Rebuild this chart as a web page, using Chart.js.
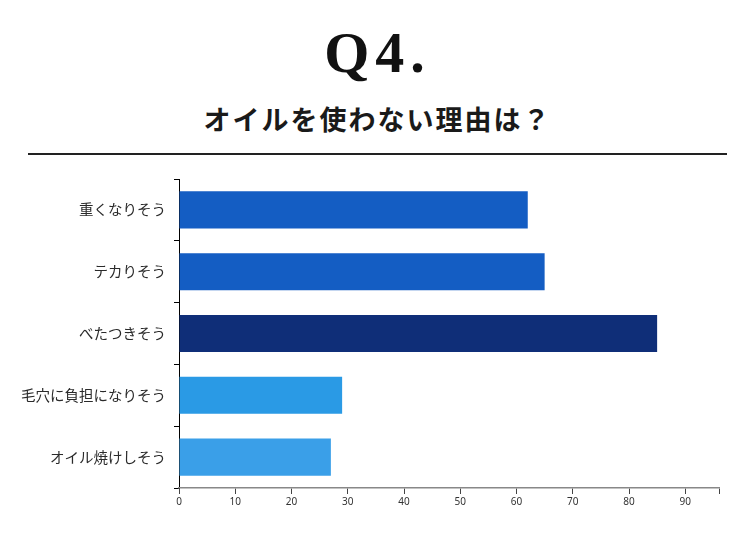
<!DOCTYPE html>
<html>
<head>
<meta charset="utf-8">
<script src="https://cdn.jsdelivr.net/npm/chart.js@4"></script>
<style>
  html, body { margin: 0; padding: 0; background: #fff; }
  #wrap { position: relative; width: 755px; height: 537px; overflow: hidden; }
  #q { position: absolute; left: 0; width: 755px; top: 18px; text-align: center;
       font-family: "Liberation Serif", "DejaVu Serif", serif; font-weight: bold;
       font-size: 58px; line-height: 70px; letter-spacing: 6px; color: #111; }
  #sub { position: absolute; left: 0; width: 755px; top: 99px; text-align: center;
         font-family: "Noto Sans CJK JP", sans-serif; font-weight: 700;
         font-size: 27px; line-height: 40px; letter-spacing: 2px; color: #1a1a1a; }
  #rule { position: absolute; left: 28px; width: 699px; top: 153px; height: 2px; background: #222; }
  canvas { position: absolute; left: 0; top: 0; }
</style>
</head>
<body>
<div id="wrap">
  <div id="q">Q4.</div>
  <div id="sub">オイルを使わない理由は？</div>
  <div id="rule"></div>
  <canvas id="chart" width="755" height="537"></canvas>
</div>
<script>
// reasons for not using oil
const reasons = ['重くなりそう', 'テカりそう', 'べたつきそう', '毛穴に負担になりそう', 'オイル焼けしそう'];
const counts = [62, 65, 85, 29, 27];
const barColors = ['#145dc3', '#145dc3', '#0f2e78', '#2a9ae5', '#3a9fe8'];

new Chart(document.getElementById('chart'), {
  type: 'bar',
  data: {
    labels: reasons,
    datasets: [{
      data: counts,
      backgroundColor: barColors,
      categoryPercentage: 0.6,
      barPercentage: 1.0
    }]
  },
  options: {
    indexAxis: 'y',
    responsive: false,
    animation: false,
    layout: { padding: { top: 179, right: 36, bottom: 0, left: 0 } },
    plugins: { legend: { display: false }, tooltip: { enabled: false } },
    scales: {
      y: {
        afterFit: (scale) => { scale.width = 179; },
        border: { color: '#000', width: 1 },
        grid: { drawOnChartArea: false, drawTicks: true, tickLength: 5, color: '#000' },
        ticks: { color: '#2a2a2a', padding: 8, font: { family: '"Noto Sans CJK JP", sans-serif', size: 14.5 } }
      },
      x: {
        min: 0,
        max: 96,
        afterFit: (scale) => { scale.height = 49; },
        border: { color: '#888', width: 1.5 },
        grid: { drawOnChartArea: false, drawTicks: true, tickLength: 6, color: '#444' },
        ticks: {
          stepSize: 10,
          color: '#333',
          padding: 2,
          font: { family: '"Noto Sans", sans-serif', size: 10 },
          callback: (v) => (v % 10 === 0 ? v : '')
        }
      }
    }
  }
});
</script>
</body>
</html>
